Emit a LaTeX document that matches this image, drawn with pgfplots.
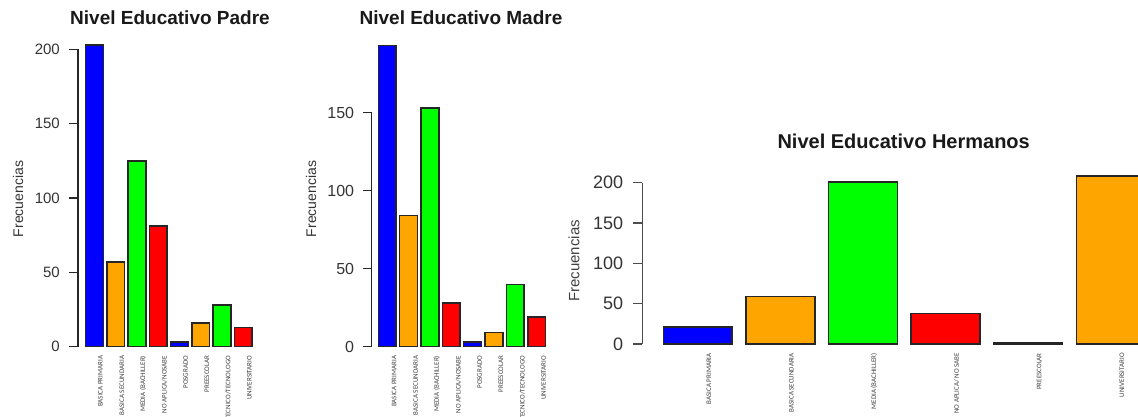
\documentclass[border=0pt]{standalone}
\usepackage{fontspec}
\setmainfont{Liberation Sans}
\newfontfamily\narrowfont{Carlito}
\usepackage{pgfplots}
\pgfplotsset{compat=1.18}

\definecolor{rblue}{RGB}{0,0,255}
\definecolor{rorange}{RGB}{255,165,0}
\definecolor{rgreen}{RGB}{0,255,0}
\definecolor{rred}{RGB}{255,0,0}

\pgfplotsset{
  rbar/.style={ybar, bar width=0.833, bar shift=0pt, draw=black!85, line width=1.5pt},
  rpanel/.style={
    scale only axis, anchor=south west, clip=false,
    axis y line*=left, axis x line*=bottom,
    x axis line style={draw=none},
    major x tick style={draw=none},
    ymin=0,
    tick align=outside, major tick length=9pt,
    major y tick style={line width=1.5pt, black!85},
    y axis line style={line width=1.5pt, black!85},
    xtick={0,...,7},
    xticklabel style={rotate=90, anchor=east, inner sep=0pt, text=black!75,
      font=\narrowfont\fontsize{7}{8}\selectfont},
    yticklabel style={anchor=east, inner sep=0pt, text=black!80},
    /pgf/number format/assume math mode=true,
  },
}

\begin{document}
\begin{tikzpicture}

% ---- Nivel Educativo Padre
\begin{axis}[rpanel,
  at={(78pt,70.3pt)}, width=181.8pt, height=297.4pt,
  xmin=-0.776, xmax=7.776, ymax=200, ytick={0,50,100,150,200},
  yticklabel style={font=\fontsize{15}{18}\selectfont, xshift=-9pt},
  xticklabel style={yshift=-6pt},
  xticklabels={BASICA PRIMARIA,BASICA SECUNDARIA,MEDIA (BACHILLER),NO APLICA/NOSABE,POSGRADO,PREESCOLAR,TECNICO/TECNOLOGO,UNIVERSITARIO},
]
\addplot[rbar, fill=rblue]   coordinates {(0,203) (4,3)};
\addplot[rbar, fill=rorange] coordinates {(1,57) (5,16)};
\addplot[rbar, fill=rgreen]  coordinates {(2,125) (6,28)};
\addplot[rbar, fill=rred]    coordinates {(3,81) (7,13)};
\end{axis}
\node[anchor=base, text=black!90, font=\bfseries\fontsize{19}{22}\selectfont] at (170pt,392.7pt) {Nivel Educativo Padre};
\node[rotate=90, text=black!80, font=\fontsize{14}{16}\selectfont] at (18pt,218pt) {Frecuencias};

% ---- Nivel Educativo Madre
\begin{axis}[rpanel,
  at={(371.7pt,70.3pt)}, width=180.5pt, height=234pt,
  xmin=-0.726, xmax=7.726, ymax=150, ytick={0,50,100,150},
  yticklabel style={font=\fontsize{16}{19}\selectfont, xshift=-8.4pt},
  xticklabel style={yshift=-7pt},
  xticklabels={BASICA PRIMARIA,BASICA SECUNDARIA,MEDIA (BACHILLER),NO APLICA/NOSABE,POSGRADO,PREESCOLAR,TECNICO/TECNOLOGO,UNIVERSITARIO},
]
\addplot[rbar, fill=rblue]   coordinates {(0,193) (4,3)};
\addplot[rbar, fill=rorange] coordinates {(1,84) (5,9)};
\addplot[rbar, fill=rgreen]  coordinates {(2,153) (6,40)};
\addplot[rbar, fill=rred]    coordinates {(3,28) (7,19)};
\end{axis}
\node[anchor=base, text=black!90, font=\bfseries\fontsize{19}{22}\selectfont] at (461pt,392.7pt) {Nivel Educativo Madre};
\node[rotate=90, text=black!80, font=\fontsize{14}{16}\selectfont] at (311pt,218pt) {Frecuencias};

% ---- Nivel Educativo Hermanos
\begin{axis}[rpanel,
  at={(642.3pt,73pt)}, width=524pt, height=161.3pt,
  xmin=-0.672, xmax=5.672, ymax=200, ytick={0,50,100,150,200},
  xtick={0,...,5},
  major y tick style={black!70}, y axis line style={black!70},
  yticklabel style={font=\fontsize{18}{21}\selectfont, xshift=-10pt},
  xticklabel style={yshift=-11pt},
  xticklabels={BASICA PRIMARIA,BASICA SECUNDARIA,MEDIA (BACHILLER),NO APLICA/ NO SABE,PREESCOLAR,UNIVERSITARIO},
]
\addplot[rbar, fill=rblue]   coordinates {(0,21) (4,1)};
\addplot[rbar, fill=rorange] coordinates {(1,59) (5,208)};
\addplot[rbar, fill=rgreen]  coordinates {(2,201)};
\addplot[rbar, fill=rred]    coordinates {(3,38)};
\end{axis}
\node[anchor=base, text=black!90, font=\bfseries\fontsize{20}{24}\selectfont] at (903.7pt,268.7pt) {Nivel Educativo Hermanos};
\node[rotate=90, font=\fontsize{15}{18}\selectfont, text=black!75] at (574pt,156pt) {Frecuencias};

\pgfresetboundingbox
\path[use as bounding box] (0pt,0pt) rectangle (1138pt,417pt);
\end{tikzpicture}
\end{document}
